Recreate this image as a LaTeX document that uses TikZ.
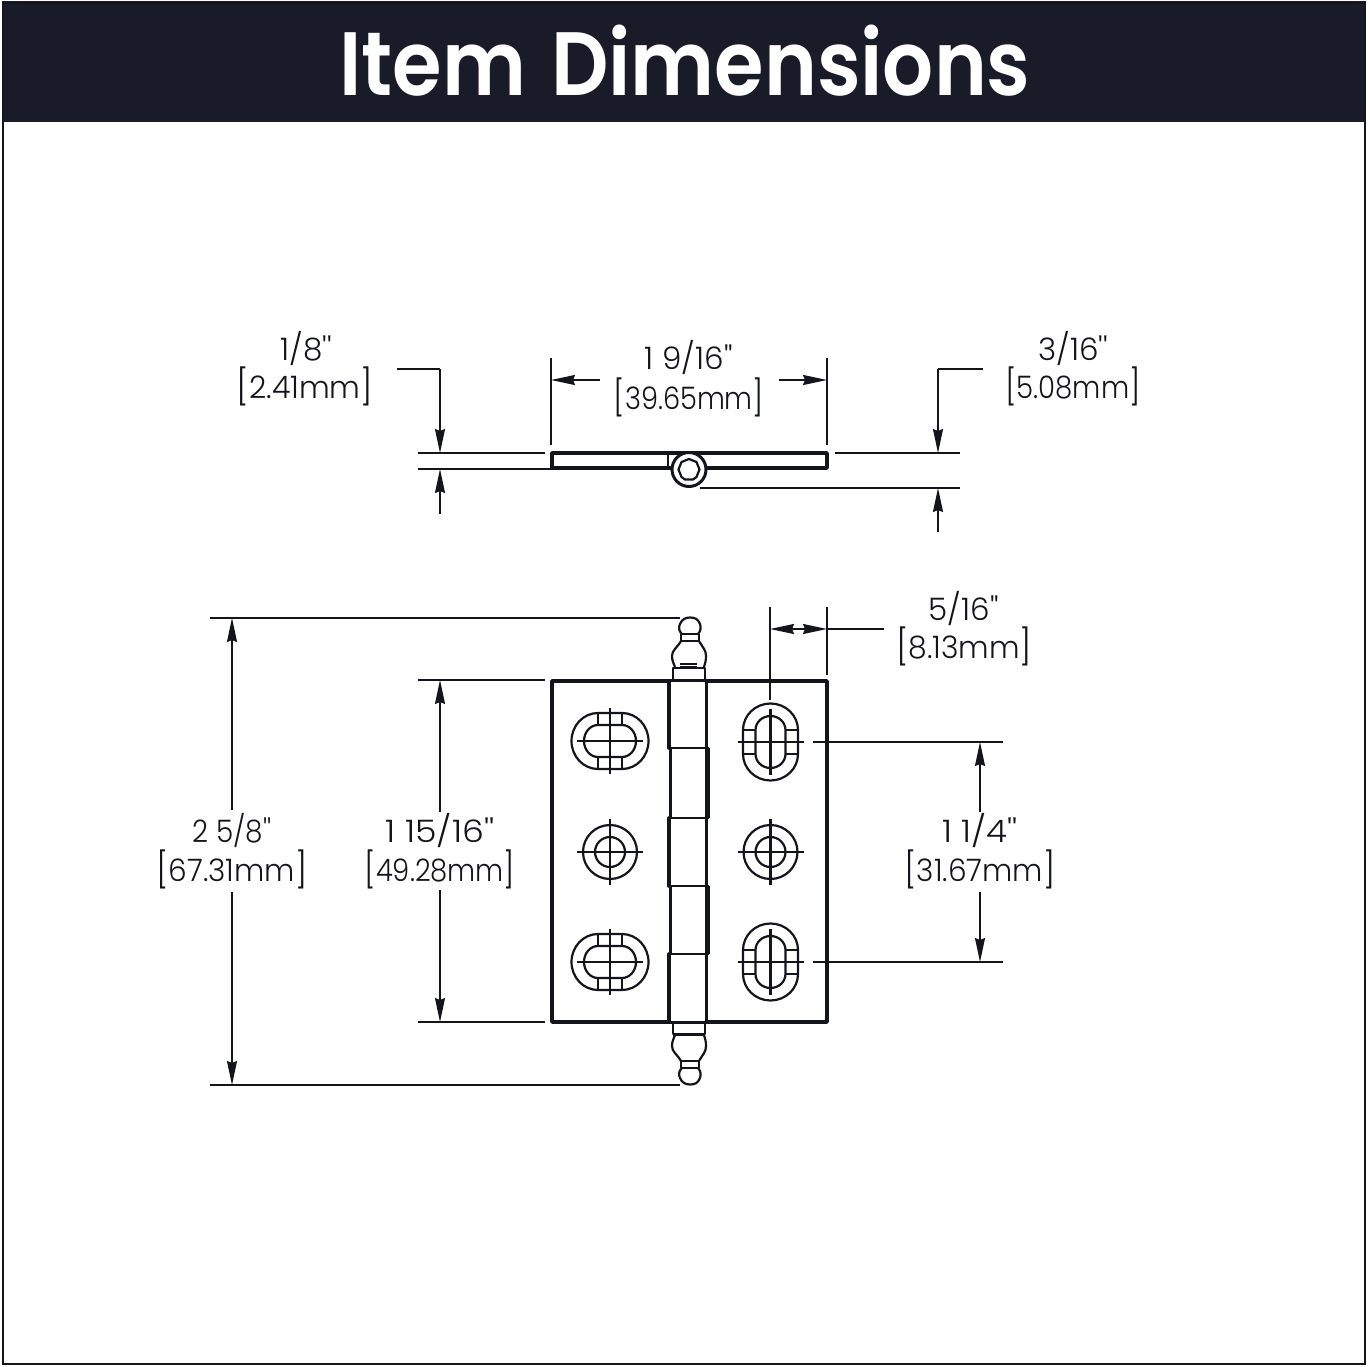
\documentclass[tikz,border=0pt]{standalone}
\usepackage{fontspec}
\usetikzlibrary{arrows.meta}
\newfontfamily\lblfont{Poppins Light}
\newfontfamily\ttlfont[FakeStretch=0.89]{Poppins SemiBold}
\definecolor{ink}{HTML}{14151C}
\definecolor{band}{HTML}{191B28}
\newcommand{\lblsize}{\fontsize{31}{31}\selectfont}
\newcommand{\brk}[1]{{\fontsize{35}{35}\selectfont\raisebox{-0.5pt}{#1}}}
\tikzset{
  thickline/.style={draw=ink,line width=3.6pt,line cap=round,line join=round},
  midline/.style={draw=ink,line width=2.2pt,line join=round},
  dimline/.style={draw=ink,line width=1.6pt},
  arr/.style={dimline,-{Stealth[length=24pt,width=10pt,inset=2pt]}},
  lbl/.style={inner sep=0pt,font=\lblfont\lblsize,text=ink,anchor=center},
  title/.style={inner sep=0pt,font=\ttlfont\fontsize{90}{90}\selectfont,text=white,anchor=center}
}
% horizontal slotted hole
\newcommand{\holeH}[2]{\begin{scope}[shift={(#1,#2)}]
  \draw[midline] (-12,-28) -- (12,-28) arc[start angle=90,end angle=-90,x radius=26.5pt,y radius=28pt] -- (-12,28) arc[start angle=270,end angle=90,x radius=26.5pt,y radius=28pt] -- cycle;
  \draw[midline] (-12,-16) -- (12,-16) arc[start angle=90,end angle=-90,x radius=14pt,y radius=16pt] -- (-12,16) arc[start angle=270,end angle=90,x radius=14pt,y radius=16pt] -- cycle;
  \draw[midline] (-12,-28) -- (-12,-16) (12,-28) -- (12,-16) (-12,28) -- (-12,16) (12,28) -- (12,16);
  \draw[midline] (-33,0) -- (33,0) (0,-33) -- (0,33);
\end{scope}}
% vertical slotted hole
\newcommand{\holeV}[2]{\begin{scope}[shift={(#1,#2)}]
  \draw[midline] (27.5,-12) -- (27.5,12) arc[start angle=0,end angle=-180,x radius=27.5pt,y radius=26.5pt] -- (-27.5,-12) arc[start angle=180,end angle=0,x radius=27.5pt,y radius=26.5pt] -- cycle;
  \draw[midline] (15,-12) -- (15,12) arc[start angle=0,end angle=-180,x radius=15pt,y radius=14pt] -- (-15,-12) arc[start angle=180,end angle=0,x radius=15pt,y radius=14pt] -- cycle;
  \draw[midline] (-27.5,-12) -- (-15,-12) (-27.5,12) -- (-15,12) (27.5,-12) -- (15,-12) (27.5,12) -- (15,12);
  \draw[midline] (-33,0) -- (33,0) (0,-33) -- (0,33);
\end{scope}}
% round hole
\newcommand{\holeR}[2]{\begin{scope}[shift={(#1,#2)}]
  \draw[midline] (0,0) circle (27pt) (0,0) circle (15pt);
  \draw[midline] (-33,0) -- (33,0) (0,-33) -- (0,33);
\end{scope}}
\begin{document}
\begin{tikzpicture}[x=1pt,y=-1pt]
\useasboundingbox (0,0) rectangle (1368,1367);
\fill[white] (0,0) rectangle (1368,1367);
\fill[band] (2,1) rectangle (1366,122);
\draw[draw=ink,line width=1.8pt] (3,3) rectangle (1365,1364);
\node[title] (heading) at (685,61) {Item\hspace{6pt} Dimensions};

% ---------- top view
\draw[thickline] (552,453) rectangle (827,468);
\draw[midline,line width=2.6pt] (668,453) -- (668,468);
\fill[white] (689,469.5) circle (17pt);
\draw[midline,line width=3pt] (689,469.5) circle (17pt);
\draw[midline] (699.5,469.5) -- (696.5,462) -- (689,459) -- (681.5,462) -- (678.5,469.5) -- (681.5,477) -- (685,479.5) -- (693,479.5) -- (696.5,477) -- cycle;

\coordinate (a1) at (397,369); \coordinate (a2) at (440,369); \coordinate (a3) at (440,453);
\coordinate (a4) at (440,514); \coordinate (a5) at (440,469);
\draw[dimline] (a1) -- (a2); \draw[arr] (a2) -- (a3); \draw[arr] (a4) -- (a5);
\draw[dimline] (418,453) -- (545,453); \draw[dimline] (418,469) -- (552,469);
\node[lbl] (l18a) at (306,349) {1/8''};
\node[lbl] (l18b) at (305,386) {\scalebox{0.97}[1]{\brk{[}2.41mm\brk{]}}};

\draw[dimline] (551,358) -- (551,445); \draw[dimline] (827,358) -- (827,445);
\coordinate (b1) at (600,380); \coordinate (b2) at (551,380);
\coordinate (b3) at (779,380); \coordinate (b4) at (827,380);
\draw[arr] (b1) -- (b2); \draw[arr] (b3) -- (b4);
\node[lbl] (l916a) at (689,358) {1 9/16''};
\node[lbl] (l916b) at (689,397) {\scalebox{0.88}[1]{\brk{[}39.65mm\brk{]}}};

\coordinate (c1) at (983,369); \coordinate (c2) at (938,369); \coordinate (c3) at (938,453);
\coordinate (c4) at (938,532); \coordinate (c5) at (938,488);
\draw[dimline] (c1) -- (c2); \draw[arr] (c2) -- (c3); \draw[arr] (c4) -- (c5);
\draw[dimline] (835,453) -- (960,453); \draw[dimline] (700,488) -- (960,488);
\node[lbl] (l316a) at (1073,349) {3/16''};
\node[lbl] (l316b) at (1073,386) {\scalebox{0.89}[1]{\brk{[}5.08mm\brk{]}}};

% ---------- front view
\draw[thickline] (552,681) rectangle (827,1022);
\fill[white] (670,682) rectangle (706,1021);
\draw[midline] (706.5,681) -- (706.5,1022);
\draw[midline] (670.5,748) -- (670.5,818) (670.5,886) -- (670.5,954);
\draw[thickline] (669,681) -- (669,748);
\draw[thickline] (669,818) -- (669,886);
\draw[thickline] (669,954) -- (669,1022);
\draw[thickline,line cap=butt] (708,748) -- (708,818);
\draw[thickline,line cap=butt] (708,886) -- (708,954);
\draw[midline] (669,748) -- (709,748) (669,818) -- (709,818) (669,886) -- (709,886) (669,954) -- (709,954);

% finials
\draw[midline] (673,681) -- (673,668) -- (705,668) -- (705,681);
\draw[thickline,line cap=butt,line width=2.6pt] (673,668) -- (705,668);
\draw[midline,line width=1.2pt] (680,664) -- (697,664) (680,667) -- (697,667);
\draw[midline] (681,641) .. controls (677,648) and (672,650) .. (672,656) .. controls (672,661) and (674,664) .. (675,667);
\draw[midline] (699,641) .. controls (703,648) and (706,650) .. (706,656) .. controls (706,661) and (705,664) .. (704,667);
\draw[midline] (681,634) -- (681,641) -- (699,641) -- (699,634);
\draw[midline] (681,634) -- (699,634);
\draw[midline] (682,634) .. controls (678,631) and (679,626) .. (680,624) .. controls (682,619) and (686,617.5) .. (690,617.5) .. controls (695,617.5) and (698,619) .. (700,624) .. controls (701,627) and (701,631) .. (698,634);

\draw[midline] (673,1022) -- (673,1034) -- (705,1034) -- (705,1022);
\draw[midline,line width=2.6pt] (673,1035) -- (705,1035);
\draw[midline] (681,1061) .. controls (677,1054) and (672,1052) .. (672,1046) .. controls (672,1041) and (674,1038) .. (675,1035);
\draw[midline] (699,1061) .. controls (703,1054) and (706,1052) .. (706,1046) .. controls (706,1041) and (705,1038) .. (704,1035);
\draw[midline] (681,1068) -- (681,1061) -- (699,1061) -- (699,1068);
\draw[midline] (681,1068) -- (699,1068);
\draw[midline] (682,1068) .. controls (678,1071) and (679,1076) .. (680,1078) .. controls (682,1083) and (686,1084.5) .. (690,1084.5) .. controls (695,1084.5) and (698,1083) .. (700,1078) .. controls (701,1075) and (701,1071) .. (698,1068);

% holes
\holeH{610}{741}
\holeR{610}{852}
\holeH{610}{962}
\holeV{770.5}{742}
\holeR{770.5}{852}
\holeV{770.5}{962}

% ---------- overall height
\draw[dimline] (210,618) -- (680,618); \draw[dimline] (210,1085) -- (680,1085);
\coordinate (d1) at (232,810); \coordinate (d2) at (232,618);
\coordinate (d3) at (232,892); \coordinate (d4) at (232,1085);
\draw[arr] (d1) -- (d2); \draw[arr] (d3) -- (d4);
\node[lbl] (l58a) at (232,830) {\scalebox{0.9}[1]{2 5/8''}};
\node[lbl] (l58b) at (232,869) {\scalebox{0.955}[1]{\brk{[}67.31mm\brk{]}}};

% ---------- leaf height
\draw[dimline] (418,680) -- (545,680); \draw[dimline] (418,1022) -- (545,1022);
\coordinate (e1) at (440,812); \coordinate (e2) at (440,680);
\coordinate (e3) at (440,890); \coordinate (e4) at (440,1022);
\draw[arr] (e1) -- (e2); \draw[arr] (e3) -- (e4);
\node[lbl] (l1516a) at (440,830) {\scalebox{1.12}[1]{1 15/16''}};
\node[lbl] (l1516b) at (440,869) {\scalebox{0.885}[1]{\brk{[}49.28mm\brk{]}}};

% ---------- hole inset
\draw[dimline] (770,607) -- (770,700); \draw[dimline] (827,607) -- (827,675);
\coordinate (f1) at (800,629); \coordinate (f2) at (770,629);
\coordinate (f3) at (884,629); \coordinate (f4) at (827,629);
\coordinate (f5) at (798,629);
\draw[arr] (f1) -- (f2); \draw[dimline] (f3) -- (f4); \draw[arr] (f5) -- (f4);
\node[lbl] (l516a) at (964,608) {5/16''};
\node[lbl] (l516b) at (964,646) {\scalebox{0.963}[1]{\brk{[}8.13mm\brk{]}}};

% ---------- hole spacing
\draw[dimline] (813,742) -- (1003,742); \draw[dimline] (813,962) -- (1003,962);
\coordinate (g1) at (980,812); \coordinate (g2) at (980,742);
\coordinate (g3) at (980,892); \coordinate (g4) at (980,962);
\draw[arr] (g1) -- (g2); \draw[arr] (g3) -- (g4);
\node[lbl] (l14a) at (980,830) {\scalebox{1.1}[1]{1 1/4''}};
\node[lbl] (l14b) at (980,869) {\scalebox{0.955}[1]{\brk{[}31.67mm\brk{]}}};
\end{tikzpicture}
\end{document}
